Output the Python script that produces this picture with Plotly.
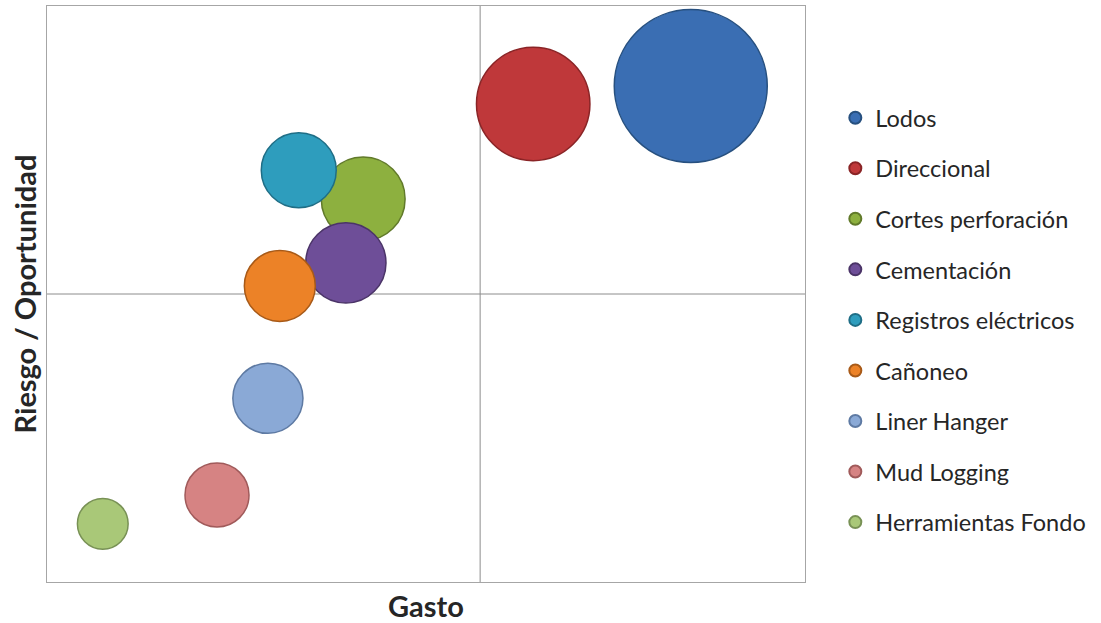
import plotly.graph_objects as go

names = ["Lodos", "Direccional", "Cortes perforación", "Cementación",
         "Registros eléctricos", "Cañoneo", "Liner Hanger", "Mud Logging",
         "Herramientas Fondo"]
gasto = [11.89, 8.98, 5.84, 5.52, 4.65, 4.30, 4.08, 3.14, 1.03]
riesgo = [86.1, 83.0, 66.5, 55.4, 71.5, 51.4, 31.9, 15.1, 10.1]
tamano = [100, 55, 30, 27.5, 24, 21.5, 21, 17.5, 11]
colors = ["#3A6EB3", "#BF383A", "#8DB03F", "#6E4E98", "#2E9DBD",
          "#EC8227", "#8AA9D6", "#D68383", "#A9C878"]
edges = ["#27507F", "#8A2426", "#617A2A", "#4B3468", "#1F6E86",
         "#A85A18", "#5E7AA3", "#A05A5A", "#789155"]

X_RANGE = [0, 14]
Y_RANGE = [0, 100]
X_CROSS = 8
Y_CROSS = 50

MAX_D = 153
sizeref = 2 * max(tamano) / (MAX_D ** 2)

fig = go.Figure()
for i, n in enumerate(names):
    fig.add_trace(go.Scatter(
        x=[gasto[i]], y=[riesgo[i]], mode="markers", name=n,
        legendgroup=n,
        marker=dict(size=[tamano[i]], sizemode="area", sizeref=sizeref,
                    color=colors[i], opacity=1,
                    line=dict(color=edges[i], width=1.5)),
    ))

fig.add_shape(type="line", x0=X_CROSS, x1=X_CROSS, y0=Y_RANGE[0], y1=Y_RANGE[1],
              line=dict(color="#8C8C8C", width=1), layer="below")
fig.add_shape(type="line", x0=X_RANGE[0], x1=X_RANGE[1], y0=Y_CROSS, y1=Y_CROSS,
              line=dict(color="#8C8C8C", width=1), layer="below")

font = "Lato, 'Open Sans', sans-serif"
fig.update_layout(
    width=1101, height=623,
    margin=dict(l=47, r=296, t=6, b=41),
    paper_bgcolor="white", plot_bgcolor="white",
    font=dict(family=font, color="#262626"),
    showlegend=True,
    legend=dict(x=1.04, y=0.455, xanchor="left", yanchor="middle",
                font=dict(size=23.5, family=font, color="#262626"),
                itemsizing="constant", tracegroupgap=17,
                bgcolor="rgba(0,0,0,0)"),
    xaxis=dict(range=X_RANGE, showgrid=False, zeroline=False, showticklabels=False,
               ticks="", showline=True, linecolor="#A6A6A6", linewidth=1, mirror=True,
               title=dict(text="<b>Gasto</b>", font=dict(size=29, family=font, color="#262626"),
                          standoff=14)),
    yaxis=dict(range=Y_RANGE, showgrid=False, zeroline=False, showticklabels=False,
               ticks="", showline=True, linecolor="#A6A6A6", linewidth=1, mirror=True,
               title=dict(text="<b>Riesgo / Oportunidad</b>",
                          font=dict(size=29, family=font, color="#262626"),
                          standoff=0)),
)

fig.write_html("out.html")
